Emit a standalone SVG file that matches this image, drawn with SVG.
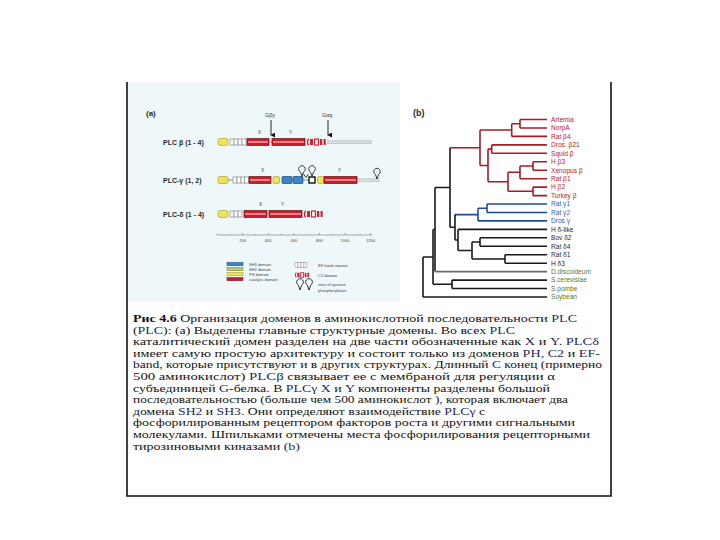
<svg xmlns="http://www.w3.org/2000/svg" width="720" height="540" viewBox="0 0 720 540">
<defs>
<style>
.cap{font-family:"Liberation Serif","DejaVu Serif",serif;font-size:11.2px;fill:#141414}
.hl{fill:#1e2a60}
.lbl{font-family:"Liberation Sans",Arial,sans-serif;font-size:7px;font-weight:bold;fill:#2a2a2a}
.sm{font-family:"Liberation Sans",Arial,sans-serif;font-size:4.6px;fill:#333}
.tx{font-family:"Liberation Sans",Arial,sans-serif;font-size:4px;fill:#444}
.leaf{font-family:"Liberation Sans",Arial,sans-serif;font-size:6.6px}
.r{fill:#b41e2a}.b{fill:#2a62b8}.k{fill:#2a2a2a}.g{fill:#5c7a26}
.red{fill:#c4202c;stroke:#6e1014;stroke-width:0.7}
.shine{stroke:#f6c8c8;stroke-width:1.2}
.yel{fill:#efe255;stroke:#a89a20;stroke-width:0.6}
.blu{fill:#3a86cc;stroke:#1c3d7a;stroke-width:0.7}
.ef{fill:#fff;stroke:#777;stroke-width:0.6}
.c2{fill:none;stroke:#d0242c;stroke-width:1.3}
.tail{stroke:#888;stroke-width:0.6;fill:none}
.tr path{fill:none;stroke-width:1.6}
.tred{stroke:#a81c24}.tblu{stroke:#22489a}.tblk{stroke:#1a1a1a}.tgry{stroke:#6a6a62}
.hp{fill:none;stroke:#222;stroke-width:0.9}
</style>
<marker id="ah" viewBox="0 0 6 6" refX="3" refY="5" markerWidth="5" markerHeight="5" orient="auto-start-reverse" markerUnits="userSpaceOnUse">
<path d="M0,0 L6,0 L3,6 Z" fill="#111"/>
</marker>
<g id="efbox">
<rect class="ef" x="0" y="-3" width="4" height="6"/>
</g>
<g id="c2dom">
<path class="c2" d="M1.5,-3.5 Q-0.5,0 1.5,3.5"/>
<rect x="3" y="-3" width="3" height="6" fill="#d0242c"/>
<rect x="7.5" y="-3" width="4" height="6" fill="none" stroke="#d0242c" stroke-width="1.2"/>
<rect x="13" y="-3" width="2.2" height="6" fill="#d0242c"/>
<rect x="16.5" y="-3" width="2.2" height="6" fill="#d0242c"/>
</g>
</defs>

<rect x="0" y="0" width="720" height="540" fill="#fff"/>
<rect x="128" y="82" width="272" height="220" fill="#eef8fa"/>

<!-- frame -->
<path d="M127,82 V496 H611 V82" fill="none" stroke="#111" stroke-width="1.6"/>

<!-- Panel (a) -->
<g id="panel-a">
<text x="146" y="116" class="lbl" style="font-size:8px">(a)</text>

<g id="plcb">
<text x="163" y="145" class="lbl">PLC β (1 - 4)</text>
<line x1="327" y1="141" x2="372" y2="141" class="tail"/>
<line x1="327" y1="143.2" x2="372" y2="143.2" class="tail"/>
<rect class="yel" x="218" y="138.5" width="10" height="7" rx="2"/>
<use href="#efbox" x="230" y="142"/><use href="#efbox" x="234" y="142"/><use href="#efbox" x="238" y="142"/><use href="#efbox" x="242" y="142"/>
<rect class="red" x="247" y="138.5" width="22" height="7"/>
<line class="shine" x1="248" y1="142" x2="268" y2="142"/>
<line x1="269" y1="142" x2="272" y2="142" stroke="#888" stroke-width="1"/>
<rect class="red" x="272" y="138.5" width="33" height="7"/>
<line class="shine" x1="273" y1="142" x2="304" y2="142"/>
<use href="#c2dom" x="307" y="142"/>
<text x="258" y="134" class="sm">X</text>
<text x="289" y="134" class="sm">Y</text>
<text x="265" y="117" class="sm" style="font-size:5.4px">Gβγ</text>
<line x1="271" y1="120" x2="271" y2="135" stroke="#111" stroke-width="0.9" marker-end="url(#ah)"/>
<text x="322" y="117" class="sm" style="font-size:5.4px">Gαq</text>
<line x1="328" y1="120" x2="328" y2="135" stroke="#111" stroke-width="0.9" marker-end="url(#ah)"/>
</g>

<g id="plcg">
<text x="163" y="183" class="lbl">PLC-γ (1, 2)</text>
<line x1="357" y1="179" x2="380" y2="179" class="tail"/>
<line x1="357" y1="181.2" x2="380" y2="181.2" class="tail"/>
<rect class="yel" x="218" y="176.5" width="10" height="7" rx="2"/>
<line x1="228" y1="180" x2="233" y2="180" stroke="#777" stroke-width="0.8"/>
<use href="#efbox" x="233" y="180"/><use href="#efbox" x="237" y="180"/><use href="#efbox" x="241" y="180"/><use href="#efbox" x="244.5" y="180"/>
<rect class="red" x="249" y="176.5" width="22" height="7"/>
<line class="shine" x1="250" y1="180" x2="270" y2="180"/>
<rect class="yel" x="273" y="176.5" width="6.5" height="7" rx="1.5"/>
<rect class="blu" x="282" y="176.5" width="10" height="7" rx="1"/>
<rect class="blu" x="293" y="176.5" width="10" height="7" rx="1"/>
<line x1="303" y1="180" x2="309" y2="180" stroke="#777" stroke-width="0.8"/>
<rect x="309" y="177" width="6" height="6" fill="#fff" stroke="#111" stroke-width="1.4"/>
<rect class="yel" x="317.5" y="176.5" width="6" height="7" rx="1.5"/>
<rect class="red" x="324" y="176.5" width="33" height="7"/>
<line class="shine" x1="325" y1="180" x2="356" y2="180"/>
<text x="261" y="172" class="sm">X</text>
<text x="338" y="172" class="sm">Y</text>
<path class="hp" d="M302,176.5 L300.5,172 A3.3,3.3 0 1 1 303.5,172 Z"/>
<path class="hp" d="M312,176.5 L310.5,172 A3.3,3.3 0 1 1 313.5,172 Z"/>
<path class="hp" d="M303.5,174 L306,177.5 L308.5,174"/>
<path class="hp" d="M377,179 L375.5,174.5 A3.3,3.3 0 1 1 378.5,174.5 Z"/>
</g>

<g id="plcd">
<text x="163" y="217" class="lbl">PLC-δ (1 - 4)</text>
<rect class="yel" x="218" y="210.5" width="10" height="7" rx="2"/>
<use href="#efbox" x="230" y="214"/><use href="#efbox" x="234" y="214"/><use href="#efbox" x="238" y="214"/>
<rect class="red" x="244" y="210.5" width="23" height="7"/>
<line class="shine" x1="245" y1="214" x2="266" y2="214"/>
<line x1="267" y1="214" x2="269" y2="214" stroke="#888" stroke-width="1"/>
<rect class="red" x="269" y="210.5" width="33" height="7"/>
<line class="shine" x1="270" y1="214" x2="301" y2="214"/>
<use href="#c2dom" x="304" y="214"/>
<text x="259" y="206" class="sm">X</text>
<text x="281" y="206" class="sm">Y</text>
</g>

<g id="axis">
<line x1="217" y1="235" x2="372" y2="235" stroke="#777" stroke-width="0.6"/>
<path d="M217,233.5V235 M229.8,234V235 M242.6,233V235 M255.4,234V235 M268.2,233V235 M281,234V235 M293.8,233V235 M306.6,234V235 M319.4,233V235 M332.2,234V235 M345,233V235 M357.8,234V235 M370.6,233V235" stroke="#777" stroke-width="0.6"/>
<text x="242.6" y="242" class="tx" text-anchor="middle">200</text>
<text x="268.2" y="242" class="tx" text-anchor="middle">400</text>
<text x="293.8" y="242" class="tx" text-anchor="middle">600</text>
<text x="319.4" y="242" class="tx" text-anchor="middle">800</text>
<text x="345" y="242" class="tx" text-anchor="middle">1000</text>
<text x="370.6" y="242" class="tx" text-anchor="middle">1200</text>
</g>

<g id="legend">
<rect x="227" y="262.5" width="16" height="3.2" fill="#3a86cc" stroke="#1c3d7a" stroke-width="0.5"/>
<rect x="227" y="267.5" width="16" height="3.2" fill="#b8cc70" stroke="#6a7a30" stroke-width="0.5"/>
<rect x="227" y="272.5" width="16" height="3.2" fill="#efe255" stroke="#a89a20" stroke-width="0.5"/>
<rect x="227" y="277.5" width="16" height="3.2" fill="#c4202c" stroke="#6e1014" stroke-width="0.5"/>
<text x="249" y="266" class="tx">SH3 domain</text>
<text x="249" y="271" class="tx">SH2 domain</text>
<text x="249" y="276" class="tx">PH domain</text>
<text x="249" y="281" class="tx">catalytic domain</text>
<g transform="translate(295,265) scale(0.75)">
<use href="#efbox" x="0" y="0"/><use href="#efbox" x="4" y="0"/><use href="#efbox" x="8" y="0"/><use href="#efbox" x="12" y="0"/>
</g>
<g transform="translate(295,275) scale(0.75)"><use href="#c2dom" x="0" y="0"/></g>
<path class="hp" d="M300,290 L298.3,285 A3.4,3.4 0 1 1 301.7,285 Z"/>
<path class="hp" d="M309,290 L307.3,285 A3.4,3.4 0 1 1 310.7,285 Z"/>
<text x="318" y="267" class="tx">EF-hand repeats</text>
<text x="318" y="277" class="tx">C2 domain</text>
<text x="318" y="286" class="tx">sites of tyrosine</text>
<text x="318" y="292" class="tx">phosphorylation</text>
</g>
</g>

<!-- Panel (b) -->
<g id="panel-b">
<text x="413" y="116" class="lbl" style="font-size:9px">(b)</text>
<g id="connectors" class="tr">
<path class="tred" d="M520,119.5H547 M520,128H547 M520,119.5V128 M511.7,123.7H520 M511.7,136.4H547 M511.7,123.7V136.4"/>
<path class="tred" d="M491.7,144.9H547 M491.7,153.3H547 M491.7,144.9V153.3"/>
<path class="tred" d="M533,161.8H547 M533,170.2H547 M533,161.8V170.2 M520,166H533 M520,178.7H547 M520,166V178.7"/>
<path class="tred" d="M533,187.1H547 M533,195.6H547 M533,187.1V195.6 M508,172.3H520 M508,191.3H533 M508,172.3V191.3"/>
<path class="tred" d="M488,149.1H491.7 M488,181.8H508 M488,149.1V181.8"/>
<path class="tred" d="M480,130H511.7 M480,165.5H488 M480,130V165.5 M450,147.7H480"/>
<path class="tblu" d="M487,204H547 M487,212.5H547 M487,204V212.5 M478,208.3H487 M478,220.9H547 M478,208.3V220.9 M455,214.6H478"/>
<path class="tblk" d="M458,229.4H547 M480,237.8H547 M480,246.3H547 M480,237.8V246.3 M505,254.7H547 M505,263.2H547 M505,254.7V263.2"/>
<path class="tblk" d="M472,242H480 M472,259H505 M472,242V259 M458,250.5H472 M458,229.4V250.5 M455,240H458 M455,214.6V240"/>
<path class="tblk" d="M450,147.7V227.3 M450,227.3H455 M435,187.5H450 M435,187.5V271.6"/>
<path class="tgry" d="M435,271.6H547"/>
<path class="tblk" d="M452,280.1H547 M452,288.5H547 M452,280.1V288.5 M433,229.5H435 M433,284.3H452 M433,229.5V284.3 M423,257H433 M423,257V297 M423,297H547"/>
</g>
<g id="leaves" class="leaf">
<text x="551" y="121.8" class="r">Artemia</text>
<text x="551" y="130.3" class="r">NorpA</text>
<text x="551" y="138.7" class="r">Rat β4</text>
<text x="551" y="147.2" class="r">Dros. β21</text>
<text x="551" y="155.6" class="r">Squid β</text>
<text x="551" y="164.1" class="r">H β3</text>
<text x="551" y="172.5" class="r">Xenopus β</text>
<text x="551" y="181" class="r">Rat β1</text>
<text x="551" y="189.4" class="r">H β2</text>
<text x="551" y="197.9" class="r">Turkey β</text>
<text x="551" y="206.3" class="b">Rat γ1</text>
<text x="551" y="214.8" class="b">Rat γ2</text>
<text x="551" y="223.2" class="b">Dros γ</text>
<text x="551" y="231.7" class="k">H δ-like</text>
<text x="551" y="240.1" class="k">Bov δ2</text>
<text x="551" y="248.6" class="k">Rat δ4</text>
<text x="551" y="257" class="k">Rat δ1</text>
<text x="551" y="265.5" class="k">H δ3</text>
<text x="551" y="273.9" class="g">D.discoideum</text>
<text x="551" y="282.4" class="g">S.cerevisiae</text>
<text x="551" y="290.8" class="g">S.pombe</text>
<text x="551" y="299.3" class="g">Soybean</text>
</g>
</g>

<!-- caption -->
<g id="caption" class="cap">
<text x="133" y="322" textLength="444" lengthAdjust="spacingAndGlyphs"><tspan font-weight="bold">Рис 4.6</tspan> Организация доменов в аминокислотной последовательности <tspan class="hl">PLC</tspan></text>
<text x="133" y="333.6" textLength="382" lengthAdjust="spacingAndGlyphs">(<tspan class="hl">PLC</tspan>): (a) Выделены главные структурные домены. Во всех <tspan class="hl">PLC</tspan></text>
<text x="133" y="345.2" textLength="466" lengthAdjust="spacingAndGlyphs">каталитический домен разделен на две части обозначенные как <tspan class="hl">X</tspan> и <tspan class="hl">Y</tspan>. <tspan class="hl">PLCδ</tspan></text>
<text x="133" y="356.8" textLength="467" lengthAdjust="spacingAndGlyphs">имеет самую простую архитектуру и состоит только из доменов <tspan class="hl">PH, C2</tspan> и <tspan class="hl">EF-</tspan></text>
<text x="133" y="368.4" textLength="469" lengthAdjust="spacingAndGlyphs">band, которые присутствуют и в других структурах. Длинный <tspan class="hl">С</tspan> конец (примерно</text>
<text x="133" y="380" textLength="422" lengthAdjust="spacingAndGlyphs">500 аминокислот) <tspan class="hl">PLCβ</tspan> связывает ее с мембраной для регуляции α</text>
<text x="133" y="391.6" textLength="417" lengthAdjust="spacingAndGlyphs">субъединицей <tspan class="hl">G</tspan>-белка. В <tspan class="hl">PLCγ X</tspan> и <tspan class="hl">Y</tspan> компоненты разделены большой</text>
<text x="133" y="403.2" textLength="435" lengthAdjust="spacingAndGlyphs">последовательностью (больше чем 500 аминокислот ), которая включает два</text>
<text x="133" y="414.8" textLength="352" lengthAdjust="spacingAndGlyphs">домена <tspan class="hl">SH2</tspan> и <tspan class="hl">SH3</tspan>. Они определяют взаимодействие <tspan class="hl">PLCγ</tspan> с</text>
<text x="133" y="426.4" textLength="442" lengthAdjust="spacingAndGlyphs">фосфорилированным рецептором факторов роста и другими сигнальными</text>
<text x="133" y="438" textLength="457" lengthAdjust="spacingAndGlyphs">молекулами. Шпильками отмечены места фосфорилирования рецепторными</text>
<text x="133" y="449.6" textLength="167" lengthAdjust="spacingAndGlyphs">тирозиновыми киназами <tspan class="hl">(b)</tspan></text>
</g>
</svg>
